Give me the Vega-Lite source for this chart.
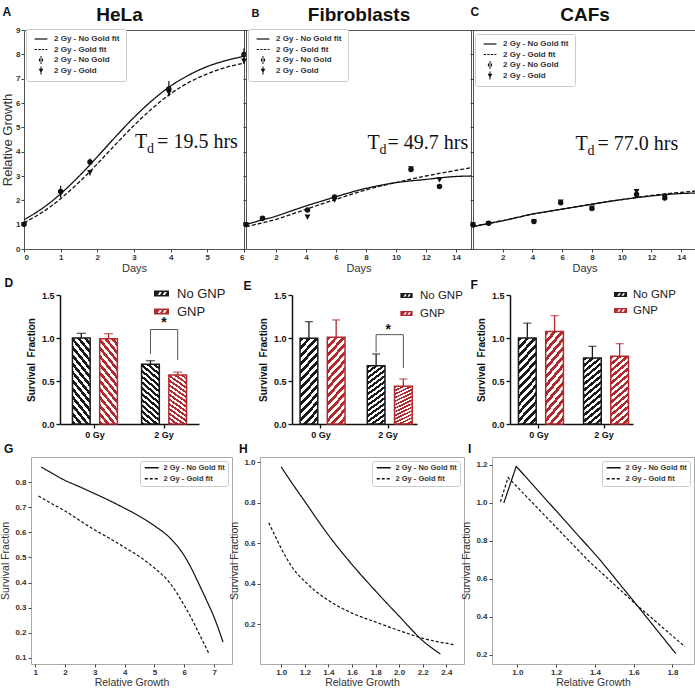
{
"$schema":"https://vega.github.io/schema/vega-lite/v6.json",
"background":"white",
"padding":{"left":0,"top":4,"right":0,"bottom":0},
"spacing":3,
"columns":1,
"align":"none",
"resolve":{"scale":{"color":"independent","shape":"independent","strokeDash":"independent"},"legend":{"color":"independent","shape":"independent","strokeDash":"independent"}},
"config":{
 "font":"Liberation Sans",
 "axis":{"grid":false,"labelFontWeight":"bold","labelColor":"#333","labelFontSize":8,"tickColor":"#444","domainColor":"#444","titleColor":"#333","titleFontWeight":"normal"},
 "title":{"color":"#111"}
},
"datasets":{
 "hela_fit":[
  {"series":"2 Gy - No Gold fit","day":0,"growth":1.2},{"series":"2 Gy - No Gold fit","day":0.5,"growth":1.67},{"series":"2 Gy - No Gold fit","day":1,"growth":2.27},{"series":"2 Gy - No Gold fit","day":1.5,"growth":2.99},{"series":"2 Gy - No Gold fit","day":2,"growth":3.79},{"series":"2 Gy - No Gold fit","day":2.5,"growth":4.62},{"series":"2 Gy - No Gold fit","day":3,"growth":5.41},{"series":"2 Gy - No Gold fit","day":3.5,"growth":6.11},{"series":"2 Gy - No Gold fit","day":4,"growth":6.7},{"series":"2 Gy - No Gold fit","day":4.5,"growth":7.15},{"series":"2 Gy - No Gold fit","day":5,"growth":7.5},{"series":"2 Gy - No Gold fit","day":5.5,"growth":7.74},{"series":"2 Gy - No Gold fit","day":6,"growth":7.92},
  {"series":"2 Gy - Gold fit","day":0,"growth":1.08},{"series":"2 Gy - Gold fit","day":0.5,"growth":1.51},{"series":"2 Gy - Gold fit","day":1,"growth":2.07},{"series":"2 Gy - Gold fit","day":1.5,"growth":2.74},{"series":"2 Gy - Gold fit","day":2,"growth":3.5},{"series":"2 Gy - Gold fit","day":2.5,"growth":4.3},{"series":"2 Gy - Gold fit","day":3,"growth":5.08},{"series":"2 Gy - Gold fit","day":3.5,"growth":5.78},{"series":"2 Gy - Gold fit","day":4,"growth":6.38},{"series":"2 Gy - Gold fit","day":4.5,"growth":6.85},{"series":"2 Gy - Gold fit","day":5,"growth":7.2},{"series":"2 Gy - Gold fit","day":5.5,"growth":7.46},{"series":"2 Gy - Gold fit","day":6,"growth":7.64}
 ],
 "hela_pts":[
  {"series":"2 Gy - No Gold","day":0,"growth":1.02,"lo":0.95,"hi":1.09},{"series":"2 Gy - No Gold","day":1,"growth":2.36,"lo":2.12,"hi":2.6},{"series":"2 Gy - No Gold","day":1.8,"growth":3.58,"lo":3.44,"hi":3.72},{"series":"2 Gy - No Gold","day":3.95,"growth":6.58,"lo":6.28,"hi":6.9},{"series":"2 Gy - No Gold","day":6,"growth":7.99,"lo":7.74,"hi":8.25},
  {"series":"2 Gy - Gold","day":0,"growth":1.0,"lo":0.94,"hi":1.06},{"series":"2 Gy - Gold","day":1,"growth":2.3,"lo":2.16,"hi":2.44},{"series":"2 Gy - Gold","day":1.8,"growth":3.14,"lo":3.02,"hi":3.26},{"series":"2 Gy - Gold","day":3.95,"growth":6.42,"lo":6.3,"hi":6.55},{"series":"2 Gy - Gold","day":6,"growth":7.72,"lo":7.6,"hi":7.85}
 ],
 "fib_fit":[
  {"series":"2 Gy - No Gold fit","day":0,"growth":1.01},{"series":"2 Gy - No Gold fit","day":1,"growth":1.18},{"series":"2 Gy - No Gold fit","day":2,"growth":1.35},{"series":"2 Gy - No Gold fit","day":3,"growth":1.56},{"series":"2 Gy - No Gold fit","day":4,"growth":1.77},{"series":"2 Gy - No Gold fit","day":5,"growth":1.96},{"series":"2 Gy - No Gold fit","day":6,"growth":2.15},{"series":"2 Gy - No Gold fit","day":7,"growth":2.33},{"series":"2 Gy - No Gold fit","day":8,"growth":2.49},{"series":"2 Gy - No Gold fit","day":9,"growth":2.62},{"series":"2 Gy - No Gold fit","day":10,"growth":2.73},{"series":"2 Gy - No Gold fit","day":11,"growth":2.8},{"series":"2 Gy - No Gold fit","day":12,"growth":2.86},{"series":"2 Gy - No Gold fit","day":13,"growth":2.93},{"series":"2 Gy - No Gold fit","day":14,"growth":2.98},{"series":"2 Gy - No Gold fit","day":15,"growth":3.0},
  {"series":"2 Gy - Gold fit","day":0,"growth":0.92},{"series":"2 Gy - Gold fit","day":1,"growth":1.06},{"series":"2 Gy - Gold fit","day":2,"growth":1.22},{"series":"2 Gy - Gold fit","day":3,"growth":1.42},{"series":"2 Gy - Gold fit","day":4,"growth":1.63},{"series":"2 Gy - Gold fit","day":5,"growth":1.84},{"series":"2 Gy - Gold fit","day":6,"growth":2.04},{"series":"2 Gy - Gold fit","day":7,"growth":2.24},{"series":"2 Gy - Gold fit","day":8,"growth":2.43},{"series":"2 Gy - Gold fit","day":9,"growth":2.59},{"series":"2 Gy - Gold fit","day":10,"growth":2.73},{"series":"2 Gy - Gold fit","day":11,"growth":2.87},{"series":"2 Gy - Gold fit","day":12,"growth":3.0},{"series":"2 Gy - Gold fit","day":13,"growth":3.12},{"series":"2 Gy - Gold fit","day":14,"growth":3.23},{"series":"2 Gy - Gold fit","day":15,"growth":3.34}
 ],
 "fib_pts":[
  {"series":"2 Gy - No Gold","day":0,"growth":1.01,"lo":0.97,"hi":1.05},{"series":"2 Gy - No Gold","day":1.1,"growth":1.26,"lo":1.21,"hi":1.31},{"series":"2 Gy - No Gold","day":4.1,"growth":1.6,"lo":1.55,"hi":1.65},{"series":"2 Gy - No Gold","day":5.9,"growth":2.14,"lo":2.08,"hi":2.2},{"series":"2 Gy - No Gold","day":11,"growth":3.27,"lo":3.19,"hi":3.35},{"series":"2 Gy - No Gold","day":12.9,"growth":2.57,"lo":2.52,"hi":2.62},
  {"series":"2 Gy - Gold","day":0,"growth":1.0,"lo":0.97,"hi":1.03},{"series":"2 Gy - Gold","day":1.1,"growth":1.22,"lo":1.18,"hi":1.26},{"series":"2 Gy - Gold","day":4.1,"growth":1.31,"lo":1.26,"hi":1.36},{"series":"2 Gy - Gold","day":5.9,"growth":2.0,"lo":1.95,"hi":2.05},{"series":"2 Gy - Gold","day":11,"growth":3.3,"lo":3.22,"hi":3.38},{"series":"2 Gy - Gold","day":12.9,"growth":2.84,"lo":2.79,"hi":2.89}
 ],
 "caf_fit":[
  {"series":"2 Gy - No Gold fit","day":0,"growth":0.92},{"series":"2 Gy - No Gold fit","day":1,"growth":1.04},{"series":"2 Gy - No Gold fit","day":2,"growth":1.16},{"series":"2 Gy - No Gold fit","day":3,"growth":1.3},{"series":"2 Gy - No Gold fit","day":4,"growth":1.44},{"series":"2 Gy - No Gold fit","day":5,"growth":1.54},{"series":"2 Gy - No Gold fit","day":6,"growth":1.64},{"series":"2 Gy - No Gold fit","day":7,"growth":1.74},{"series":"2 Gy - No Gold fit","day":8,"growth":1.84},{"series":"2 Gy - No Gold fit","day":9,"growth":1.94},{"series":"2 Gy - No Gold fit","day":10,"growth":2.03},{"series":"2 Gy - No Gold fit","day":11,"growth":2.11},{"series":"2 Gy - No Gold fit","day":12,"growth":2.18},{"series":"2 Gy - No Gold fit","day":13,"growth":2.24},{"series":"2 Gy - No Gold fit","day":14,"growth":2.28},{"series":"2 Gy - No Gold fit","day":15,"growth":2.3},
  {"series":"2 Gy - Gold fit","day":0,"growth":0.93},{"series":"2 Gy - Gold fit","day":1,"growth":1.05},{"series":"2 Gy - Gold fit","day":2,"growth":1.17},{"series":"2 Gy - Gold fit","day":3,"growth":1.3},{"series":"2 Gy - Gold fit","day":4,"growth":1.43},{"series":"2 Gy - Gold fit","day":5,"growth":1.54},{"series":"2 Gy - Gold fit","day":6,"growth":1.64},{"series":"2 Gy - Gold fit","day":7,"growth":1.74},{"series":"2 Gy - Gold fit","day":8,"growth":1.84},{"series":"2 Gy - Gold fit","day":9,"growth":1.94},{"series":"2 Gy - Gold fit","day":10,"growth":2.03},{"series":"2 Gy - Gold fit","day":11,"growth":2.12},{"series":"2 Gy - Gold fit","day":12,"growth":2.2},{"series":"2 Gy - Gold fit","day":13,"growth":2.27},{"series":"2 Gy - Gold fit","day":14,"growth":2.33},{"series":"2 Gy - Gold fit","day":15,"growth":2.38}
 ],
 "caf_pts":[
  {"series":"2 Gy - No Gold","day":0,"growth":0.99,"lo":0.96,"hi":1.02},{"series":"2 Gy - No Gold","day":1.05,"growth":1.06,"lo":1.03,"hi":1.09},{"series":"2 Gy - No Gold","day":4.1,"growth":1.13,"lo":1.09,"hi":1.17},{"series":"2 Gy - No Gold","day":5.9,"growth":1.9,"lo":1.84,"hi":1.96},{"series":"2 Gy - No Gold","day":8,"growth":1.66,"lo":1.62,"hi":1.7},{"series":"2 Gy - No Gold","day":11,"growth":2.24,"lo":2.16,"hi":2.32},{"series":"2 Gy - No Gold","day":12.9,"growth":2.1,"lo":2.06,"hi":2.14},
  {"series":"2 Gy - Gold","day":0,"growth":1.0,"lo":0.97,"hi":1.03},{"series":"2 Gy - Gold","day":1.05,"growth":1.05,"lo":1.02,"hi":1.08},{"series":"2 Gy - Gold","day":4.1,"growth":1.12,"lo":1.08,"hi":1.16},{"series":"2 Gy - Gold","day":5.9,"growth":1.93,"lo":1.87,"hi":1.99},{"series":"2 Gy - Gold","day":8,"growth":1.68,"lo":1.64,"hi":1.72},{"series":"2 Gy - Gold","day":11,"growth":2.36,"lo":2.3,"hi":2.42},{"series":"2 Gy - Gold","day":12.9,"growth":2.13,"lo":2.09,"hi":2.17}
 ],
 "d_bars":[{"dose":"0 Gy","group":"No GNP","sf":1.0,"hi":1.054},{"dose":"0 Gy","group":"GNP","sf":0.99,"hi":1.05},{"dose":"2 Gy","group":"No GNP","sf":0.694,"hi":0.736},{"dose":"2 Gy","group":"GNP","sf":0.57,"hi":0.603}],
 "d_brk":[{"dose":"2 Gy","group":"No GNP","sf":0.814,"o":1},{"dose":"2 Gy","group":"No GNP","sf":1.099,"o":2},{"dose":"2 Gy","group":"GNP","sf":1.099,"o":3},{"dose":"2 Gy","group":"GNP","sf":0.744,"o":4}],
 "e_bars":[{"dose":"0 Gy","group":"No GNP","sf":0.996,"hi":1.19},{"dose":"0 Gy","group":"GNP","sf":1.01,"hi":1.21},{"dose":"2 Gy","group":"No GNP","sf":0.678,"hi":0.814},{"dose":"2 Gy","group":"GNP","sf":0.438,"hi":0.523}],
 "e_brk":[{"dose":"2 Gy","group":"No GNP","sf":0.833,"o":1},{"dose":"2 Gy","group":"No GNP","sf":1.039,"o":2},{"dose":"2 Gy","group":"GNP","sf":1.039,"o":3},{"dose":"2 Gy","group":"GNP","sf":0.651,"o":4}],
 "f_bars":[{"dose":"0 Gy","group":"No GNP","sf":1.0,"hi":1.174},{"dose":"0 Gy","group":"GNP","sf":1.077,"hi":1.26},{"dose":"2 Gy","group":"No GNP","sf":0.767,"hi":0.903},{"dose":"2 Gy","group":"GNP","sf":0.787,"hi":0.934}],
 "g_fit":[
  {"series":"2 Gy - No Gold fit","rg":1.2,"sf":0.86},{"series":"2 Gy - No Gold fit","rg":1.5,"sf":0.84},{"series":"2 Gy - No Gold fit","rg":2,"sf":0.807},{"series":"2 Gy - No Gold fit","rg":2.5,"sf":0.781},{"series":"2 Gy - No Gold fit","rg":3,"sf":0.754},{"series":"2 Gy - No Gold fit","rg":3.5,"sf":0.726},{"series":"2 Gy - No Gold fit","rg":4,"sf":0.696},{"series":"2 Gy - No Gold fit","rg":4.5,"sf":0.664},{"series":"2 Gy - No Gold fit","rg":5,"sf":0.626},{"series":"2 Gy - No Gold fit","rg":5.5,"sf":0.58},{"series":"2 Gy - No Gold fit","rg":6,"sf":0.507},{"series":"2 Gy - No Gold fit","rg":6.25,"sf":0.454},{"series":"2 Gy - No Gold fit","rg":6.5,"sf":0.392},{"series":"2 Gy - No Gold fit","rg":6.75,"sf":0.329},{"series":"2 Gy - No Gold fit","rg":7,"sf":0.262},{"series":"2 Gy - No Gold fit","rg":7.3,"sf":0.163},
  {"series":"2 Gy - Gold fit","rg":1.11,"sf":0.745},{"series":"2 Gy - Gold fit","rg":1.5,"sf":0.718},{"series":"2 Gy - Gold fit","rg":2,"sf":0.685},{"series":"2 Gy - Gold fit","rg":2.5,"sf":0.647},{"series":"2 Gy - Gold fit","rg":3,"sf":0.609},{"series":"2 Gy - Gold fit","rg":3.5,"sf":0.576},{"series":"2 Gy - Gold fit","rg":4,"sf":0.54},{"series":"2 Gy - Gold fit","rg":4.5,"sf":0.503},{"series":"2 Gy - Gold fit","rg":5,"sf":0.458},{"series":"2 Gy - Gold fit","rg":5.5,"sf":0.401},{"series":"2 Gy - Gold fit","rg":6,"sf":0.309},{"series":"2 Gy - Gold fit","rg":6.25,"sf":0.256},{"series":"2 Gy - Gold fit","rg":6.5,"sf":0.196},{"series":"2 Gy - Gold fit","rg":6.83,"sf":0.117}
 ],
 "h_fit":[
  {"series":"2 Gy - No Gold fit","rg":1.0,"sf":0.977},{"series":"2 Gy - No Gold fit","rg":1.1,"sf":0.89},{"series":"2 Gy - No Gold fit","rg":1.2,"sf":0.807},{"series":"2 Gy - No Gold fit","rg":1.3,"sf":0.722},{"series":"2 Gy - No Gold fit","rg":1.4,"sf":0.641},{"series":"2 Gy - No Gold fit","rg":1.6,"sf":0.496},{"series":"2 Gy - No Gold fit","rg":1.8,"sf":0.365},{"series":"2 Gy - No Gold fit","rg":2.0,"sf":0.241},{"series":"2 Gy - No Gold fit","rg":2.2,"sf":0.12},{"series":"2 Gy - No Gold fit","rg":2.35,"sf":0.054},
  {"series":"2 Gy - Gold fit","rg":0.894,"sf":0.702},{"series":"2 Gy - Gold fit","rg":0.95,"sf":0.635},{"series":"2 Gy - Gold fit","rg":1.0,"sf":0.575},{"series":"2 Gy - Gold fit","rg":1.1,"sf":0.476},{"series":"2 Gy - Gold fit","rg":1.2,"sf":0.412},{"series":"2 Gy - Gold fit","rg":1.3,"sf":0.36},{"series":"2 Gy - Gold fit","rg":1.4,"sf":0.319},{"series":"2 Gy - Gold fit","rg":1.6,"sf":0.256},{"series":"2 Gy - Gold fit","rg":1.8,"sf":0.212},{"series":"2 Gy - Gold fit","rg":2.0,"sf":0.17},{"series":"2 Gy - Gold fit","rg":2.2,"sf":0.132},{"series":"2 Gy - Gold fit","rg":2.47,"sf":0.1}
 ],
 "i_fit":[
  {"series":"2 Gy - No Gold fit","rg":0.93,"sf":0.998},{"series":"2 Gy - No Gold fit","rg":0.994,"sf":1.191},{"series":"2 Gy - No Gold fit","rg":1.425,"sf":0.7},{"series":"2 Gy - No Gold fit","rg":1.617,"sf":0.459},{"series":"2 Gy - No Gold fit","rg":1.817,"sf":0.205},
  {"series":"2 Gy - Gold fit","rg":0.9125,"sf":1.004},{"series":"2 Gy - Gold fit","rg":0.952,"sf":1.132},{"series":"2 Gy - Gold fit","rg":1.37,"sf":0.69},{"series":"2 Gy - Gold fit","rg":1.617,"sf":0.459},{"series":"2 Gy - Gold fit","rg":1.864,"sf":0.241}
 ]
},
"concat":[
 {"hconcat":[
  {"width":22,"height":10,"view":{"stroke":null},"data":{"values":[]},"mark":{"type":"point","opacity":0}},
  {"width":220,"height":219,"view":{"stroke":"#555"},
   "title":{"text":"A","anchor":"start","frame":"bounds","fontSize":12,"fontWeight":"bold","offset":-14,"dx":1},
   "resolve":{"axis":{"x":"independent","y":"independent"}},
   "layer":[
    {"data":{"name":"hela_fit"},"mark":{"type":"line","color":"#111","strokeWidth":1.3,"interpolate":"monotone"},
     "encoding":{
      "x":{"field":"day","type":"quantitative","scale":{"domain":[0,6],"nice":false},"axis":{"title":"Days","values":[0,1,2,3,4,5,6],"titleFontSize":11,"tickSize":3,"domain":false,"labelPadding":1,"titlePadding":1}},
      "y":{"field":"growth","type":"quantitative","scale":{"domain":[0,9],"nice":false},"axis":{"title":"Relative Growth","values":[0,1,2,3,4,5,6,7,8,9],"titleFontSize":13,"tickSize":3,"domain":false,"labelPadding":1,"titlePadding":1}},
      "strokeDash":{"field":"series","type":"nominal","scale":{"domain":["2 Gy - No Gold fit","2 Gy - Gold fit"],"range":[[1,0],[4,2]]},"legend":null}}},
    {"data":{"name":"hela_pts"},"mark":{"type":"rule","color":"#111","strokeWidth":1.2},"encoding":{"x":{"field":"day","type":"quantitative","axis":null},"y":{"field":"lo","type":"quantitative","axis":null},"y2":{"field":"hi"}}},
    {"data":{"name":"hela_pts"},"transform":[{"filter":"datum.series === '2 Gy - No Gold'"}],"mark":{"type":"point","shape":"circle","filled":true,"color":"#111","size":30,"opacity":1},"encoding":{"x":{"field":"day","type":"quantitative","axis":null},"y":{"field":"growth","type":"quantitative","axis":null}}},
    {"data":{"name":"hela_pts"},"transform":[{"filter":"datum.series === '2 Gy - Gold'"}],"mark":{"type":"point","shape":"triangle-down","filled":true,"color":"#111","size":34,"opacity":1},"encoding":{"x":{"field":"day","type":"quantitative","axis":null},"y":{"field":"growth","type":"quantitative","axis":null}}},
    {"data":{"name":"hela_pts"},"mark":{"type":"point","filled":true,"color":"#111","opacity":0},
     "encoding":{
      "x":{"field":"day","type":"quantitative","axis":{"orient":"top","title":"HeLa","labels":false,"ticks":false,"domain":false,"titleFontSize":19,"titleFontWeight":"bold","titleColor":"#111","titlePadding":6,"titleX":95}},
      "y":{"field":"growth","type":"quantitative","axis":null},
      "shape":{"field":"series","type":"nominal","scale":{"domain":["2 Gy - No Gold fit","2 Gy - Gold fit","2 Gy - No Gold","2 Gy - Gold"],"range":["M-1.6,-0.15H1.6V0.15H-1.6Z","M-1.6,-0.15H-1V0.15H-1.6Z M-0.7,-0.15H-0.1V0.15H-0.7Z M0.2,-0.15H0.8V0.15H0.2Z M1.1,-0.15H1.6V0.15H1.1Z","M-0.55,0A0.55,0.55 0 1,0 0.55,0A0.55,0.55 0 1,0 -0.55,0Z M-0.13,-1H0.13V1H-0.13Z","M-0.6,-0.45L0.6,-0.45L0,0.6Z M-0.13,-1H0.13V1H-0.13Z"]},
       "legend":{"title":null,"orient":"none","legendX":2,"legendY":-1,"padding":6,"strokeColor":"#ccc","fillColor":"#fff","cornerRadius":2,"symbolSize":64,"symbolOpacity":1,"symbolStrokeWidth":0,"symbolFillColor":"#111","symbolOffset":5,"labelFontSize":8,"labelFontWeight":"bold","labelColor":"#333","labelOffset":9,"rowPadding":2.5}}}},
    {"data":{"values":[{"t":"T"}]},"mark":{"type":"text","font":"Liberation Serif","fontSize":20,"align":"left","baseline":"alphabetic","color":"#111"},"encoding":{"x":{"datum":3.03,"type":"quantitative","axis":null},"y":{"datum":4.15,"type":"quantitative","axis":null},"text":{"field":"t"}}},
    {"data":{"values":[{"t":"d"}]},"mark":{"type":"text","font":"Liberation Serif","fontSize":14,"align":"left","baseline":"alphabetic","color":"#111","dx":12,"dy":5},"encoding":{"x":{"datum":3.03,"type":"quantitative","axis":null},"y":{"datum":4.15,"type":"quantitative","axis":null},"text":{"field":"t"}}},
    {"data":{"values":[{"t":"= 19.5 hrs"}]},"mark":{"type":"text","font":"Liberation Serif","fontSize":20,"align":"left","baseline":"alphabetic","color":"#111","dx":22},"encoding":{"x":{"datum":3.03,"type":"quantitative","axis":null},"y":{"datum":4.15,"type":"quantitative","axis":null},"text":{"field":"t"}}}
   ]},
  {"width":2,"height":10,"view":{"stroke":null},"data":{"values":[]},"mark":{"type":"point","opacity":0}},
  {"width":225,"height":219,"view":{"stroke":"#555"},
   "title":{"text":"B","anchor":"start","frame":"bounds","fontSize":11,"fontWeight":"bold","offset":-14,"dx":9},
   "resolve":{"axis":{"x":"independent","y":"independent"}},
   "layer":[
    {"data":{"name":"fib_fit"},"mark":{"type":"line","color":"#111","strokeWidth":1.3,"interpolate":"monotone"},
     "encoding":{
      "x":{"field":"day","type":"quantitative","scale":{"domain":[0,15],"nice":false},"axis":{"title":"Days","values":[2,4,6,8,10,12,14],"titleFontSize":11,"tickSize":3,"domain":false,"labelPadding":1,"titlePadding":1}},
      "y":{"field":"growth","type":"quantitative","scale":{"domain":[0,9],"nice":false},"axis":{"title":null,"labels":false,"values":[0,1,2,3,4,5,6,7,8,9],"tickSize":3,"domain":false}},
      "strokeDash":{"field":"series","type":"nominal","scale":{"domain":["2 Gy - No Gold fit","2 Gy - Gold fit"],"range":[[1,0],[4,2]]},"legend":null}}},
    {"data":{"name":"fib_pts"},"mark":{"type":"rule","color":"#111","strokeWidth":1.2},"encoding":{"x":{"field":"day","type":"quantitative","axis":null},"y":{"field":"lo","type":"quantitative","axis":null},"y2":{"field":"hi"}}},
    {"data":{"name":"fib_pts"},"transform":[{"filter":"datum.series === '2 Gy - No Gold'"}],"mark":{"type":"point","shape":"circle","filled":true,"color":"#111","size":30,"opacity":1},"encoding":{"x":{"field":"day","type":"quantitative","axis":null},"y":{"field":"growth","type":"quantitative","axis":null}}},
    {"data":{"name":"fib_pts"},"transform":[{"filter":"datum.series === '2 Gy - Gold'"}],"mark":{"type":"point","shape":"triangle-down","filled":true,"color":"#111","size":34,"opacity":1},"encoding":{"x":{"field":"day","type":"quantitative","axis":null},"y":{"field":"growth","type":"quantitative","axis":null}}},
    {"data":{"name":"fib_pts"},"mark":{"type":"point","filled":true,"color":"#111","opacity":0},
     "encoding":{
      "x":{"field":"day","type":"quantitative","axis":{"orient":"top","title":"Fibroblasts","labels":false,"ticks":false,"domain":false,"titleFontSize":19,"titleFontWeight":"bold","titleColor":"#111","titlePadding":6}},
      "y":{"field":"growth","type":"quantitative","axis":null},
      "shape":{"field":"series","type":"nominal","scale":{"domain":["2 Gy - No Gold fit","2 Gy - Gold fit","2 Gy - No Gold","2 Gy - Gold"],"range":["M-1.6,-0.15H1.6V0.15H-1.6Z","M-1.6,-0.15H-1V0.15H-1.6Z M-0.7,-0.15H-0.1V0.15H-0.7Z M0.2,-0.15H0.8V0.15H0.2Z M1.1,-0.15H1.6V0.15H1.1Z","M-0.55,0A0.55,0.55 0 1,0 0.55,0A0.55,0.55 0 1,0 -0.55,0Z M-0.13,-1H0.13V1H-0.13Z","M-0.6,-0.45L0.6,-0.45L0,0.6Z M-0.13,-1H0.13V1H-0.13Z"]},
       "legend":{"title":null,"orient":"none","legendX":2,"legendY":-1,"padding":6,"strokeColor":"#ccc","fillColor":"#fff","cornerRadius":2,"symbolSize":64,"symbolOpacity":1,"symbolStrokeWidth":0,"symbolFillColor":"#111","symbolOffset":5,"labelFontSize":8,"labelFontWeight":"bold","labelColor":"#333","labelOffset":9,"rowPadding":2.5}}}},
    {"data":{"values":[{"t":"T"}]},"mark":{"type":"text","font":"Liberation Serif","fontSize":20,"align":"left","baseline":"alphabetic","color":"#111"},"encoding":{"x":{"datum":8.1,"type":"quantitative","axis":null},"y":{"datum":4.11,"type":"quantitative","axis":null},"text":{"field":"t"}}},
    {"data":{"values":[{"t":"d"}]},"mark":{"type":"text","font":"Liberation Serif","fontSize":14,"align":"left","baseline":"alphabetic","color":"#111","dx":12,"dy":5},"encoding":{"x":{"datum":8.1,"type":"quantitative","axis":null},"y":{"datum":4.11,"type":"quantitative","axis":null},"text":{"field":"t"}}},
    {"data":{"values":[{"t":"= 49.7 hrs"}]},"mark":{"type":"text","font":"Liberation Serif","fontSize":20,"align":"left","baseline":"alphabetic","color":"#111","dx":20},"encoding":{"x":{"datum":8.1,"type":"quantitative","axis":null},"y":{"datum":4.11,"type":"quantitative","axis":null},"text":{"field":"t"}}}
   ]},
  {"width":2,"height":10,"view":{"stroke":null},"data":{"values":[]},"mark":{"type":"point","opacity":0}},
  {"width":223,"height":219,"view":{"stroke":"#555"},
   "title":{"text":"C","anchor":"start","frame":"bounds","fontSize":12,"fontWeight":"bold","offset":-14,"dx":1},
   "resolve":{"axis":{"x":"independent","y":"independent"}},
   "layer":[
    {"data":{"name":"caf_fit"},"mark":{"type":"line","color":"#111","strokeWidth":1.3,"interpolate":"monotone"},
     "encoding":{
      "x":{"field":"day","type":"quantitative","scale":{"domain":[0,15],"nice":false},"axis":{"title":"Days","values":[2,4,6,8,10,12,14],"titleFontSize":11,"tickSize":3,"domain":false,"labelPadding":1,"titlePadding":1}},
      "y":{"field":"growth","type":"quantitative","scale":{"domain":[0,9],"nice":false},"axis":{"title":null,"labels":false,"values":[0,1,2,3,4,5,6,7,8,9],"tickSize":3,"domain":false}},
      "strokeDash":{"field":"series","type":"nominal","scale":{"domain":["2 Gy - No Gold fit","2 Gy - Gold fit"],"range":[[1,0],[4,2]]},"legend":null}}},
    {"data":{"name":"caf_pts"},"mark":{"type":"rule","color":"#111","strokeWidth":1.2},"encoding":{"x":{"field":"day","type":"quantitative","axis":null},"y":{"field":"lo","type":"quantitative","axis":null},"y2":{"field":"hi"}}},
    {"data":{"name":"caf_pts"},"transform":[{"filter":"datum.series === '2 Gy - No Gold'"}],"mark":{"type":"point","shape":"circle","filled":true,"color":"#111","size":30,"opacity":1},"encoding":{"x":{"field":"day","type":"quantitative","axis":null},"y":{"field":"growth","type":"quantitative","axis":null}}},
    {"data":{"name":"caf_pts"},"transform":[{"filter":"datum.series === '2 Gy - Gold'"}],"mark":{"type":"point","shape":"triangle-down","filled":true,"color":"#111","size":34,"opacity":1},"encoding":{"x":{"field":"day","type":"quantitative","axis":null},"y":{"field":"growth","type":"quantitative","axis":null}}},
    {"data":{"name":"caf_pts"},"mark":{"type":"point","filled":true,"color":"#111","opacity":0},
     "encoding":{
      "x":{"field":"day","type":"quantitative","axis":{"orient":"top","title":"CAFs","labels":false,"ticks":false,"domain":false,"titleFontSize":19,"titleFontWeight":"bold","titleColor":"#111","titlePadding":6}},
      "y":{"field":"growth","type":"quantitative","axis":null},
      "shape":{"field":"series","type":"nominal","scale":{"domain":["2 Gy - No Gold fit","2 Gy - Gold fit","2 Gy - No Gold","2 Gy - Gold"],"range":["M-1.6,-0.15H1.6V0.15H-1.6Z","M-1.6,-0.15H-1V0.15H-1.6Z M-0.7,-0.15H-0.1V0.15H-0.7Z M0.2,-0.15H0.8V0.15H0.2Z M1.1,-0.15H1.6V0.15H1.1Z","M-0.55,0A0.55,0.55 0 1,0 0.55,0A0.55,0.55 0 1,0 -0.55,0Z M-0.13,-1H0.13V1H-0.13Z","M-0.6,-0.45L0.6,-0.45L0,0.6Z M-0.13,-1H0.13V1H-0.13Z"]},
       "legend":{"title":null,"orient":"none","legendX":2,"legendY":4,"padding":6,"strokeColor":"#ccc","fillColor":"#fff","cornerRadius":2,"symbolSize":64,"symbolOpacity":1,"symbolStrokeWidth":0,"symbolFillColor":"#111","symbolOffset":5,"labelFontSize":8,"labelFontWeight":"bold","labelColor":"#333","labelOffset":9,"rowPadding":2.5}}}},
    {"data":{"values":[{"t":"T"}]},"mark":{"type":"text","font":"Liberation Serif","fontSize":20,"align":"left","baseline":"alphabetic","color":"#111"},"encoding":{"x":{"datum":6.9,"type":"quantitative","axis":null},"y":{"datum":4.07,"type":"quantitative","axis":null},"text":{"field":"t"}}},
    {"data":{"values":[{"t":"d"}]},"mark":{"type":"text","font":"Liberation Serif","fontSize":14,"align":"left","baseline":"alphabetic","color":"#111","dx":12,"dy":5},"encoding":{"x":{"datum":6.9,"type":"quantitative","axis":null},"y":{"datum":4.07,"type":"quantitative","axis":null},"text":{"field":"t"}}},
    {"data":{"values":[{"t":"= 77.0 hrs"}]},"mark":{"type":"text","font":"Liberation Serif","fontSize":20,"align":"left","baseline":"alphabetic","color":"#111","dx":22},"encoding":{"x":{"datum":6.9,"type":"quantitative","axis":null},"y":{"datum":4.07,"type":"quantitative","axis":null},"text":{"field":"t"}}}
   ]}
 ],"bounds":"flush","spacing":0,"resolve":{"scale":{"shape":"independent","strokeDash":"independent"},"legend":{"shape":"independent","strokeDash":"independent"}}},
 {"hconcat":[
  {"width":58,"height":10,"view":{"stroke":null},"data":{"values":[]},"mark":{"type":"point","opacity":0}},
  {"width":139,"height":129,"view":{"stroke":null},
   "title":{"text":"D","anchor":"start","frame":"bounds","fontSize":12,"fontWeight":"bold","offset":-4,"dx":-22},
   "resolve":{"axis":{"x":"independent","y":"independent"},"legend":{"color":"independent"}},
   "layer":[
    {"data":{"name":"d_bars"},"transform":[{"filter":"datum.group === 'No GNP'"}],"mark":{"type":"bar","stroke":"#1a1a1a","strokeWidth":1.5,"fill":{"gradient":"linear","x1":0,"y1":1,"x2":0.3,"y2":-0.18,"stops":[{"offset":0,"color":"#1a1a1a"},{"offset":0.0385,"color":"#1a1a1a"},{"offset":0.0385,"color":"#ffffff"},{"offset":0.0769,"color":"#ffffff"},{"offset":0.0769,"color":"#1a1a1a"},{"offset":0.1154,"color":"#1a1a1a"},{"offset":0.1154,"color":"#ffffff"},{"offset":0.1538,"color":"#ffffff"},{"offset":0.1538,"color":"#1a1a1a"},{"offset":0.1923,"color":"#1a1a1a"},{"offset":0.1923,"color":"#ffffff"},{"offset":0.2308,"color":"#ffffff"},{"offset":0.2308,"color":"#1a1a1a"},{"offset":0.2692,"color":"#1a1a1a"},{"offset":0.2692,"color":"#ffffff"},{"offset":0.3077,"color":"#ffffff"},{"offset":0.3077,"color":"#1a1a1a"},{"offset":0.3462,"color":"#1a1a1a"},{"offset":0.3462,"color":"#ffffff"},{"offset":0.3846,"color":"#ffffff"},{"offset":0.3846,"color":"#1a1a1a"},{"offset":0.4231,"color":"#1a1a1a"},{"offset":0.4231,"color":"#ffffff"},{"offset":0.4615,"color":"#ffffff"},{"offset":0.4615,"color":"#1a1a1a"},{"offset":0.5,"color":"#1a1a1a"},{"offset":0.5,"color":"#ffffff"},{"offset":0.5385,"color":"#ffffff"},{"offset":0.5385,"color":"#1a1a1a"},{"offset":0.5769,"color":"#1a1a1a"},{"offset":0.5769,"color":"#ffffff"},{"offset":0.6154,"color":"#ffffff"},{"offset":0.6154,"color":"#1a1a1a"},{"offset":0.6538,"color":"#1a1a1a"},{"offset":0.6538,"color":"#ffffff"},{"offset":0.6923,"color":"#ffffff"},{"offset":0.6923,"color":"#1a1a1a"},{"offset":0.7308,"color":"#1a1a1a"},{"offset":0.7308,"color":"#ffffff"},{"offset":0.7692,"color":"#ffffff"},{"offset":0.7692,"color":"#1a1a1a"},{"offset":0.8077,"color":"#1a1a1a"},{"offset":0.8077,"color":"#ffffff"},{"offset":0.8462,"color":"#ffffff"},{"offset":0.8462,"color":"#1a1a1a"},{"offset":0.8846,"color":"#1a1a1a"},{"offset":0.8846,"color":"#ffffff"},{"offset":0.9231,"color":"#ffffff"},{"offset":0.9231,"color":"#1a1a1a"},{"offset":0.9615,"color":"#1a1a1a"},{"offset":0.9615,"color":"#ffffff"},{"offset":1,"color":"#ffffff"}]}},
     "encoding":{
      "x":{"field":"dose","type":"nominal","scale":{"domain":["0 Gy","2 Gy"],"paddingInner":0.35,"paddingOuter":0.18},"axis":{"title":null,"labelAngle":0,"labelFontSize":9,"labelColor":"#111","tickSize":4,"tickWidth":1.3,"tickColor":"#111","domainWidth":1.5,"domainColor":"#111","labelPadding":2}},
      "y":{"field":"sf","type":"quantitative","scale":{"domain":[0,1.5],"nice":false},"axis":{"title":"Survival \u00a0Fraction","titleFontSize":10,"titleFontWeight":"bold","titleColor":"#111","values":[0,0.5,1,1.5],"format":".1f","labelFontSize":9,"labelColor":"#111","tickSize":4,"tickWidth":1.3,"tickColor":"#111","domainWidth":1.5,"domainColor":"#111","labelPadding":2,"titlePadding":5}},
      "xOffset":{"field":"group","type":"nominal","scale":{"domain":["No GNP","GNP"],"paddingInner":0.35,"paddingOuter":0}}}},
    {"data":{"name":"d_bars"},"transform":[{"filter":"datum.group === 'GNP'"}],"mark":{"type":"bar","stroke":"#b22a2e","strokeWidth":1.5,"fill":{"gradient":"linear","x1":0,"y1":1,"x2":0.3,"y2":-0.18,"stops":[{"offset":0,"color":"#b22a2e"},{"offset":0.0385,"color":"#b22a2e"},{"offset":0.0385,"color":"#ffffff"},{"offset":0.0769,"color":"#ffffff"},{"offset":0.0769,"color":"#b22a2e"},{"offset":0.1154,"color":"#b22a2e"},{"offset":0.1154,"color":"#ffffff"},{"offset":0.1538,"color":"#ffffff"},{"offset":0.1538,"color":"#b22a2e"},{"offset":0.1923,"color":"#b22a2e"},{"offset":0.1923,"color":"#ffffff"},{"offset":0.2308,"color":"#ffffff"},{"offset":0.2308,"color":"#b22a2e"},{"offset":0.2692,"color":"#b22a2e"},{"offset":0.2692,"color":"#ffffff"},{"offset":0.3077,"color":"#ffffff"},{"offset":0.3077,"color":"#b22a2e"},{"offset":0.3462,"color":"#b22a2e"},{"offset":0.3462,"color":"#ffffff"},{"offset":0.3846,"color":"#ffffff"},{"offset":0.3846,"color":"#b22a2e"},{"offset":0.4231,"color":"#b22a2e"},{"offset":0.4231,"color":"#ffffff"},{"offset":0.4615,"color":"#ffffff"},{"offset":0.4615,"color":"#b22a2e"},{"offset":0.5,"color":"#b22a2e"},{"offset":0.5,"color":"#ffffff"},{"offset":0.5385,"color":"#ffffff"},{"offset":0.5385,"color":"#b22a2e"},{"offset":0.5769,"color":"#b22a2e"},{"offset":0.5769,"color":"#ffffff"},{"offset":0.6154,"color":"#ffffff"},{"offset":0.6154,"color":"#b22a2e"},{"offset":0.6538,"color":"#b22a2e"},{"offset":0.6538,"color":"#ffffff"},{"offset":0.6923,"color":"#ffffff"},{"offset":0.6923,"color":"#b22a2e"},{"offset":0.7308,"color":"#b22a2e"},{"offset":0.7308,"color":"#ffffff"},{"offset":0.7692,"color":"#ffffff"},{"offset":0.7692,"color":"#b22a2e"},{"offset":0.8077,"color":"#b22a2e"},{"offset":0.8077,"color":"#ffffff"},{"offset":0.8462,"color":"#ffffff"},{"offset":0.8462,"color":"#b22a2e"},{"offset":0.8846,"color":"#b22a2e"},{"offset":0.8846,"color":"#ffffff"},{"offset":0.9231,"color":"#ffffff"},{"offset":0.9231,"color":"#b22a2e"},{"offset":0.9615,"color":"#b22a2e"},{"offset":0.9615,"color":"#ffffff"},{"offset":1,"color":"#ffffff"}]}},"encoding":{"x":{"field":"dose","type":"nominal","axis":null},"y":{"field":"sf","type":"quantitative","axis":null},"xOffset":{"field":"group","type":"nominal","scale":{"domain":["No GNP","GNP"],"paddingInner":0.35,"paddingOuter":0}}}},
    {"data":{"name":"d_bars"},"mark":{"type":"rule","strokeWidth":1.3},"encoding":{"x":{"field":"dose","type":"nominal","axis":null},"y":{"field":"sf","type":"quantitative","axis":null},"y2":{"field":"hi"},"xOffset":{"field":"group","type":"nominal","scale":{"domain":["No GNP","GNP"],"paddingInner":0.35,"paddingOuter":0}},"color":{"field":"group","type":"nominal","scale":{"domain":["No GNP","GNP"],"range":["#1a1a1a","#b22a2e"]},"legend":null}}},
    {"data":{"name":"d_bars"},"mark":{"type":"tick","size":9,"thickness":1.3},"encoding":{"x":{"field":"dose","type":"nominal","axis":null},"y":{"field":"hi","type":"quantitative","axis":null},"xOffset":{"field":"group","type":"nominal","scale":{"domain":["No GNP","GNP"],"paddingInner":0.35,"paddingOuter":0}},"color":{"field":"group","type":"nominal","scale":{"domain":["No GNP","GNP"],"range":["#1a1a1a","#b22a2e"]},"legend":null}}},
    {"data":{"name":"d_brk"},"mark":{"type":"line","color":"#555","strokeWidth":1},"encoding":{"x":{"field":"dose","type":"nominal","axis":null},"y":{"field":"sf","type":"quantitative","axis":null},"xOffset":{"field":"group","type":"nominal","scale":{"domain":["No GNP","GNP"],"paddingInner":0.35,"paddingOuter":0}},"order":{"field":"o","type":"quantitative"}}},
    {"data":{"values":[{"s":"*"}]},"mark":{"type":"text","fontSize":14,"fontWeight":"bold","baseline":"alphabetic","color":"#111"},"encoding":{"x":{"datum":"2 Gy","type":"nominal","axis":null},"y":{"datum":1.13,"type":"quantitative","axis":null},"text":{"field":"s"}}},
    {"data":{"name":"d_bars"},"mark":{"type":"point","filled":true,"opacity":0},"encoding":{"x":{"field":"dose","type":"nominal","axis":null},"y":{"field":"sf","type":"quantitative","axis":null},"xOffset":{"field":"group","type":"nominal","scale":{"domain":["No GNP","GNP"],"paddingInner":0.35,"paddingOuter":0}},
     "color":{"field":"group","type":"nominal","scale":{"domain":["No GNP","GNP"],"range":["#1a1a1a","#b22a2e"]},
      "legend":{"title":null,"orient":"none","legendX":94,"legendY":-9,"padding":0,"symbolType":"M-1,-0.4H1V0.4H-1Z M-0.5,0.2L-0.2,0.2L0.05,-0.2L-0.25,-0.2Z M0.15,0.2L0.45,0.2L0.7,-0.2L0.4,-0.2Z","symbolSize":225,"symbolOpacity":1,"symbolStrokeWidth":0,"labelFontSize":13,"labelFontWeight":"normal","labelColor":"#222","labelOffset":8,"rowPadding":3}}}}
   ]},
  {"width":93,"height":10,"view":{"stroke":null},"data":{"values":[]},"mark":{"type":"point","opacity":0}},
  {"width":125,"height":129,"view":{"stroke":null},
   "title":{"text":"E","anchor":"start","frame":"bounds","fontSize":12,"fontWeight":"bold","offset":-4,"dx":-15},
   "resolve":{"axis":{"x":"independent","y":"independent"},"legend":{"color":"independent"}},
   "layer":[
    {"data":{"name":"e_bars"},"transform":[{"filter":"datum.group === 'No GNP'"}],"mark":{"type":"bar","stroke":"#1a1a1a","strokeWidth":1.5,"fill":{"gradient":"linear","x1":0,"y1":0,"x2":0.26,"y2":1.165,"stops":[{"offset":0,"color":"#1a1a1a"},{"offset":0.0385,"color":"#1a1a1a"},{"offset":0.0385,"color":"#ffffff"},{"offset":0.0769,"color":"#ffffff"},{"offset":0.0769,"color":"#1a1a1a"},{"offset":0.1154,"color":"#1a1a1a"},{"offset":0.1154,"color":"#ffffff"},{"offset":0.1538,"color":"#ffffff"},{"offset":0.1538,"color":"#1a1a1a"},{"offset":0.1923,"color":"#1a1a1a"},{"offset":0.1923,"color":"#ffffff"},{"offset":0.2308,"color":"#ffffff"},{"offset":0.2308,"color":"#1a1a1a"},{"offset":0.2692,"color":"#1a1a1a"},{"offset":0.2692,"color":"#ffffff"},{"offset":0.3077,"color":"#ffffff"},{"offset":0.3077,"color":"#1a1a1a"},{"offset":0.3462,"color":"#1a1a1a"},{"offset":0.3462,"color":"#ffffff"},{"offset":0.3846,"color":"#ffffff"},{"offset":0.3846,"color":"#1a1a1a"},{"offset":0.4231,"color":"#1a1a1a"},{"offset":0.4231,"color":"#ffffff"},{"offset":0.4615,"color":"#ffffff"},{"offset":0.4615,"color":"#1a1a1a"},{"offset":0.5,"color":"#1a1a1a"},{"offset":0.5,"color":"#ffffff"},{"offset":0.5385,"color":"#ffffff"},{"offset":0.5385,"color":"#1a1a1a"},{"offset":0.5769,"color":"#1a1a1a"},{"offset":0.5769,"color":"#ffffff"},{"offset":0.6154,"color":"#ffffff"},{"offset":0.6154,"color":"#1a1a1a"},{"offset":0.6538,"color":"#1a1a1a"},{"offset":0.6538,"color":"#ffffff"},{"offset":0.6923,"color":"#ffffff"},{"offset":0.6923,"color":"#1a1a1a"},{"offset":0.7308,"color":"#1a1a1a"},{"offset":0.7308,"color":"#ffffff"},{"offset":0.7692,"color":"#ffffff"},{"offset":0.7692,"color":"#1a1a1a"},{"offset":0.8077,"color":"#1a1a1a"},{"offset":0.8077,"color":"#ffffff"},{"offset":0.8462,"color":"#ffffff"},{"offset":0.8462,"color":"#1a1a1a"},{"offset":0.8846,"color":"#1a1a1a"},{"offset":0.8846,"color":"#ffffff"},{"offset":0.9231,"color":"#ffffff"},{"offset":0.9231,"color":"#1a1a1a"},{"offset":0.9615,"color":"#1a1a1a"},{"offset":0.9615,"color":"#ffffff"},{"offset":1,"color":"#ffffff"}]}},
     "encoding":{
      "x":{"field":"dose","type":"nominal","scale":{"domain":["0 Gy","2 Gy"],"paddingInner":0.38,"paddingOuter":0.12},"axis":{"title":null,"labelAngle":0,"labelFontSize":9,"labelColor":"#111","tickSize":4,"tickWidth":1.3,"tickColor":"#111","domainWidth":1.5,"domainColor":"#111","labelPadding":2}},
      "y":{"field":"sf","type":"quantitative","scale":{"domain":[0,1.5],"nice":false},"axis":{"title":"Survival \u00a0Fraction","titleFontSize":10,"titleFontWeight":"bold","titleColor":"#111","values":[0,0.5,1,1.5],"format":".1f","labelFontSize":9,"labelColor":"#111","tickSize":4,"tickWidth":1.3,"tickColor":"#111","domainWidth":1.5,"domainColor":"#111","labelPadding":2,"titlePadding":5}},
      "xOffset":{"field":"group","type":"nominal","scale":{"domain":["No GNP","GNP"],"paddingInner":0.35,"paddingOuter":0}}}},
    {"data":{"name":"e_bars"},"transform":[{"filter":"datum.group === 'GNP'"}],"mark":{"type":"bar","stroke":"#b22a2e","strokeWidth":1.5,"fill":{"gradient":"linear","x1":0,"y1":0,"x2":0.26,"y2":1.165,"stops":[{"offset":0,"color":"#b22a2e"},{"offset":0.0385,"color":"#b22a2e"},{"offset":0.0385,"color":"#ffffff"},{"offset":0.0769,"color":"#ffffff"},{"offset":0.0769,"color":"#b22a2e"},{"offset":0.1154,"color":"#b22a2e"},{"offset":0.1154,"color":"#ffffff"},{"offset":0.1538,"color":"#ffffff"},{"offset":0.1538,"color":"#b22a2e"},{"offset":0.1923,"color":"#b22a2e"},{"offset":0.1923,"color":"#ffffff"},{"offset":0.2308,"color":"#ffffff"},{"offset":0.2308,"color":"#b22a2e"},{"offset":0.2692,"color":"#b22a2e"},{"offset":0.2692,"color":"#ffffff"},{"offset":0.3077,"color":"#ffffff"},{"offset":0.3077,"color":"#b22a2e"},{"offset":0.3462,"color":"#b22a2e"},{"offset":0.3462,"color":"#ffffff"},{"offset":0.3846,"color":"#ffffff"},{"offset":0.3846,"color":"#b22a2e"},{"offset":0.4231,"color":"#b22a2e"},{"offset":0.4231,"color":"#ffffff"},{"offset":0.4615,"color":"#ffffff"},{"offset":0.4615,"color":"#b22a2e"},{"offset":0.5,"color":"#b22a2e"},{"offset":0.5,"color":"#ffffff"},{"offset":0.5385,"color":"#ffffff"},{"offset":0.5385,"color":"#b22a2e"},{"offset":0.5769,"color":"#b22a2e"},{"offset":0.5769,"color":"#ffffff"},{"offset":0.6154,"color":"#ffffff"},{"offset":0.6154,"color":"#b22a2e"},{"offset":0.6538,"color":"#b22a2e"},{"offset":0.6538,"color":"#ffffff"},{"offset":0.6923,"color":"#ffffff"},{"offset":0.6923,"color":"#b22a2e"},{"offset":0.7308,"color":"#b22a2e"},{"offset":0.7308,"color":"#ffffff"},{"offset":0.7692,"color":"#ffffff"},{"offset":0.7692,"color":"#b22a2e"},{"offset":0.8077,"color":"#b22a2e"},{"offset":0.8077,"color":"#ffffff"},{"offset":0.8462,"color":"#ffffff"},{"offset":0.8462,"color":"#b22a2e"},{"offset":0.8846,"color":"#b22a2e"},{"offset":0.8846,"color":"#ffffff"},{"offset":0.9231,"color":"#ffffff"},{"offset":0.9231,"color":"#b22a2e"},{"offset":0.9615,"color":"#b22a2e"},{"offset":0.9615,"color":"#ffffff"},{"offset":1,"color":"#ffffff"}]}},"encoding":{"x":{"field":"dose","type":"nominal","axis":null},"y":{"field":"sf","type":"quantitative","axis":null},"xOffset":{"field":"group","type":"nominal","scale":{"domain":["No GNP","GNP"],"paddingInner":0.35,"paddingOuter":0}}}},
    {"data":{"name":"e_bars"},"mark":{"type":"rule","strokeWidth":1.3},"encoding":{"x":{"field":"dose","type":"nominal","axis":null},"y":{"field":"sf","type":"quantitative","axis":null},"y2":{"field":"hi"},"xOffset":{"field":"group","type":"nominal","scale":{"domain":["No GNP","GNP"],"paddingInner":0.35,"paddingOuter":0}},"color":{"field":"group","type":"nominal","scale":{"domain":["No GNP","GNP"],"range":["#1a1a1a","#b22a2e"]},"legend":null}}},
    {"data":{"name":"e_bars"},"mark":{"type":"tick","size":8,"thickness":1.3},"encoding":{"x":{"field":"dose","type":"nominal","axis":null},"y":{"field":"hi","type":"quantitative","axis":null},"xOffset":{"field":"group","type":"nominal","scale":{"domain":["No GNP","GNP"],"paddingInner":0.35,"paddingOuter":0}},"color":{"field":"group","type":"nominal","scale":{"domain":["No GNP","GNP"],"range":["#1a1a1a","#b22a2e"]},"legend":null}}},
    {"data":{"name":"e_brk"},"mark":{"type":"line","color":"#555","strokeWidth":1},"encoding":{"x":{"field":"dose","type":"nominal","axis":null},"y":{"field":"sf","type":"quantitative","axis":null},"xOffset":{"field":"group","type":"nominal","scale":{"domain":["No GNP","GNP"],"paddingInner":0.35,"paddingOuter":0}},"order":{"field":"o","type":"quantitative"}}},
    {"data":{"values":[{"s":"*"}]},"mark":{"type":"text","fontSize":14,"fontWeight":"bold","baseline":"alphabetic","color":"#111"},"encoding":{"x":{"datum":"2 Gy","type":"nominal","axis":null},"y":{"datum":1.05,"type":"quantitative","axis":null},"text":{"field":"s"}}},
    {"data":{"name":"e_bars"},"mark":{"type":"point","filled":true,"opacity":0},"encoding":{"x":{"field":"dose","type":"nominal","axis":null},"y":{"field":"sf","type":"quantitative","axis":null},"xOffset":{"field":"group","type":"nominal","scale":{"domain":["No GNP","GNP"],"paddingInner":0.35,"paddingOuter":0}},
     "color":{"field":"group","type":"nominal","scale":{"domain":["No GNP","GNP"],"range":["#1a1a1a","#b22a2e"]},
      "legend":{"title":null,"orient":"none","legendX":108,"legendY":-6,"padding":0,"symbolType":"M-1,-0.4H1V0.4H-1Z M-0.5,0.2L-0.2,0.2L0.05,-0.2L-0.25,-0.2Z M0.15,0.2L0.45,0.2L0.7,-0.2L0.4,-0.2Z","symbolSize":150,"symbolOpacity":1,"symbolStrokeWidth":0,"labelFontSize":11.5,"labelFontWeight":"normal","labelColor":"#222","labelOffset":7,"rowPadding":6}}}}
   ]},
  {"width":93,"height":10,"view":{"stroke":null},"data":{"values":[]},"mark":{"type":"point","opacity":0}},
  {"width":123,"height":129,"view":{"stroke":null},
   "title":{"text":"F","anchor":"start","frame":"bounds","fontSize":12,"fontWeight":"bold","offset":-4,"dx":-6},
   "resolve":{"axis":{"x":"independent","y":"independent"},"legend":{"color":"independent"}},
   "layer":[
    {"data":{"name":"f_bars"},"transform":[{"filter":"datum.group === 'No GNP'"}],"mark":{"type":"bar","stroke":"#1a1a1a","strokeWidth":1.5,"fill":{"gradient":"linear","x1":0,"y1":0,"x2":0.26,"y2":1.165,"stops":[{"offset":0,"color":"#1a1a1a"},{"offset":0.0385,"color":"#1a1a1a"},{"offset":0.0385,"color":"#ffffff"},{"offset":0.0769,"color":"#ffffff"},{"offset":0.0769,"color":"#1a1a1a"},{"offset":0.1154,"color":"#1a1a1a"},{"offset":0.1154,"color":"#ffffff"},{"offset":0.1538,"color":"#ffffff"},{"offset":0.1538,"color":"#1a1a1a"},{"offset":0.1923,"color":"#1a1a1a"},{"offset":0.1923,"color":"#ffffff"},{"offset":0.2308,"color":"#ffffff"},{"offset":0.2308,"color":"#1a1a1a"},{"offset":0.2692,"color":"#1a1a1a"},{"offset":0.2692,"color":"#ffffff"},{"offset":0.3077,"color":"#ffffff"},{"offset":0.3077,"color":"#1a1a1a"},{"offset":0.3462,"color":"#1a1a1a"},{"offset":0.3462,"color":"#ffffff"},{"offset":0.3846,"color":"#ffffff"},{"offset":0.3846,"color":"#1a1a1a"},{"offset":0.4231,"color":"#1a1a1a"},{"offset":0.4231,"color":"#ffffff"},{"offset":0.4615,"color":"#ffffff"},{"offset":0.4615,"color":"#1a1a1a"},{"offset":0.5,"color":"#1a1a1a"},{"offset":0.5,"color":"#ffffff"},{"offset":0.5385,"color":"#ffffff"},{"offset":0.5385,"color":"#1a1a1a"},{"offset":0.5769,"color":"#1a1a1a"},{"offset":0.5769,"color":"#ffffff"},{"offset":0.6154,"color":"#ffffff"},{"offset":0.6154,"color":"#1a1a1a"},{"offset":0.6538,"color":"#1a1a1a"},{"offset":0.6538,"color":"#ffffff"},{"offset":0.6923,"color":"#ffffff"},{"offset":0.6923,"color":"#1a1a1a"},{"offset":0.7308,"color":"#1a1a1a"},{"offset":0.7308,"color":"#ffffff"},{"offset":0.7692,"color":"#ffffff"},{"offset":0.7692,"color":"#1a1a1a"},{"offset":0.8077,"color":"#1a1a1a"},{"offset":0.8077,"color":"#ffffff"},{"offset":0.8462,"color":"#ffffff"},{"offset":0.8462,"color":"#1a1a1a"},{"offset":0.8846,"color":"#1a1a1a"},{"offset":0.8846,"color":"#ffffff"},{"offset":0.9231,"color":"#ffffff"},{"offset":0.9231,"color":"#1a1a1a"},{"offset":0.9615,"color":"#1a1a1a"},{"offset":0.9615,"color":"#ffffff"},{"offset":1,"color":"#ffffff"}]}},
     "encoding":{
      "x":{"field":"dose","type":"nominal","scale":{"domain":["0 Gy","2 Gy"],"paddingInner":0.37,"paddingOuter":0.13},"axis":{"title":null,"labelAngle":0,"labelFontSize":9,"labelColor":"#111","tickSize":4,"tickWidth":1.3,"tickColor":"#111","domainWidth":1.5,"domainColor":"#111","labelPadding":2}},
      "y":{"field":"sf","type":"quantitative","scale":{"domain":[0,1.5],"nice":false},"axis":{"title":"Survival \u00a0Fraction","titleFontSize":10,"titleFontWeight":"bold","titleColor":"#111","values":[0,0.5,1,1.5],"format":".1f","labelFontSize":9,"labelColor":"#111","tickSize":4,"tickWidth":1.3,"tickColor":"#111","domainWidth":1.5,"domainColor":"#111","labelPadding":2,"titlePadding":5}},
      "xOffset":{"field":"group","type":"nominal","scale":{"domain":["No GNP","GNP"],"paddingInner":0.35,"paddingOuter":0}}}},
    {"data":{"name":"f_bars"},"transform":[{"filter":"datum.group === 'GNP'"}],"mark":{"type":"bar","stroke":"#b22a2e","strokeWidth":1.5,"fill":{"gradient":"linear","x1":0,"y1":0,"x2":0.26,"y2":1.165,"stops":[{"offset":0,"color":"#b22a2e"},{"offset":0.0385,"color":"#b22a2e"},{"offset":0.0385,"color":"#ffffff"},{"offset":0.0769,"color":"#ffffff"},{"offset":0.0769,"color":"#b22a2e"},{"offset":0.1154,"color":"#b22a2e"},{"offset":0.1154,"color":"#ffffff"},{"offset":0.1538,"color":"#ffffff"},{"offset":0.1538,"color":"#b22a2e"},{"offset":0.1923,"color":"#b22a2e"},{"offset":0.1923,"color":"#ffffff"},{"offset":0.2308,"color":"#ffffff"},{"offset":0.2308,"color":"#b22a2e"},{"offset":0.2692,"color":"#b22a2e"},{"offset":0.2692,"color":"#ffffff"},{"offset":0.3077,"color":"#ffffff"},{"offset":0.3077,"color":"#b22a2e"},{"offset":0.3462,"color":"#b22a2e"},{"offset":0.3462,"color":"#ffffff"},{"offset":0.3846,"color":"#ffffff"},{"offset":0.3846,"color":"#b22a2e"},{"offset":0.4231,"color":"#b22a2e"},{"offset":0.4231,"color":"#ffffff"},{"offset":0.4615,"color":"#ffffff"},{"offset":0.4615,"color":"#b22a2e"},{"offset":0.5,"color":"#b22a2e"},{"offset":0.5,"color":"#ffffff"},{"offset":0.5385,"color":"#ffffff"},{"offset":0.5385,"color":"#b22a2e"},{"offset":0.5769,"color":"#b22a2e"},{"offset":0.5769,"color":"#ffffff"},{"offset":0.6154,"color":"#ffffff"},{"offset":0.6154,"color":"#b22a2e"},{"offset":0.6538,"color":"#b22a2e"},{"offset":0.6538,"color":"#ffffff"},{"offset":0.6923,"color":"#ffffff"},{"offset":0.6923,"color":"#b22a2e"},{"offset":0.7308,"color":"#b22a2e"},{"offset":0.7308,"color":"#ffffff"},{"offset":0.7692,"color":"#ffffff"},{"offset":0.7692,"color":"#b22a2e"},{"offset":0.8077,"color":"#b22a2e"},{"offset":0.8077,"color":"#ffffff"},{"offset":0.8462,"color":"#ffffff"},{"offset":0.8462,"color":"#b22a2e"},{"offset":0.8846,"color":"#b22a2e"},{"offset":0.8846,"color":"#ffffff"},{"offset":0.9231,"color":"#ffffff"},{"offset":0.9231,"color":"#b22a2e"},{"offset":0.9615,"color":"#b22a2e"},{"offset":0.9615,"color":"#ffffff"},{"offset":1,"color":"#ffffff"}]}},"encoding":{"x":{"field":"dose","type":"nominal","axis":null},"y":{"field":"sf","type":"quantitative","axis":null},"xOffset":{"field":"group","type":"nominal","scale":{"domain":["No GNP","GNP"],"paddingInner":0.35,"paddingOuter":0}}}},
    {"data":{"name":"f_bars"},"mark":{"type":"rule","strokeWidth":1.3},"encoding":{"x":{"field":"dose","type":"nominal","axis":null},"y":{"field":"sf","type":"quantitative","axis":null},"y2":{"field":"hi"},"xOffset":{"field":"group","type":"nominal","scale":{"domain":["No GNP","GNP"],"paddingInner":0.35,"paddingOuter":0}},"color":{"field":"group","type":"nominal","scale":{"domain":["No GNP","GNP"],"range":["#1a1a1a","#b22a2e"]},"legend":null}}},
    {"data":{"name":"f_bars"},"mark":{"type":"tick","size":8,"thickness":1.3},"encoding":{"x":{"field":"dose","type":"nominal","axis":null},"y":{"field":"hi","type":"quantitative","axis":null},"xOffset":{"field":"group","type":"nominal","scale":{"domain":["No GNP","GNP"],"paddingInner":0.35,"paddingOuter":0}},"color":{"field":"group","type":"nominal","scale":{"domain":["No GNP","GNP"],"range":["#1a1a1a","#b22a2e"]},"legend":null}}},
    {"data":{"name":"f_bars"},"mark":{"type":"point","filled":true,"opacity":0},"encoding":{"x":{"field":"dose","type":"nominal","axis":null},"y":{"field":"sf","type":"quantitative","axis":null},"xOffset":{"field":"group","type":"nominal","scale":{"domain":["No GNP","GNP"],"paddingInner":0.35,"paddingOuter":0}},
     "color":{"field":"group","type":"nominal","scale":{"domain":["No GNP","GNP"],"range":["#1a1a1a","#b22a2e"]},
      "legend":{"title":null,"orient":"none","legendX":104,"legendY":-7,"padding":0,"symbolType":"M-1,-0.4H1V0.4H-1Z M-0.5,0.2L-0.2,0.2L0.05,-0.2L-0.25,-0.2Z M0.15,0.2L0.45,0.2L0.7,-0.2L0.4,-0.2Z","symbolSize":169,"symbolOpacity":1,"symbolStrokeWidth":0,"labelFontSize":11.5,"labelFontWeight":"normal","labelColor":"#222","labelOffset":6,"rowPadding":4}}}}
   ]}
 ],"bounds":"flush","spacing":0,"resolve":{"scale":{"color":"independent"},"legend":{"color":"independent"}}},
 {"hconcat":[
  {"width":29,"height":10,"view":{"stroke":null},"data":{"values":[]},"mark":{"type":"point","opacity":0}},
  {"width":201,"height":207,"view":{"stroke":"#aaa"},
   "title":{"text":"G","anchor":"start","frame":"bounds","fontSize":12,"fontWeight":"bold","offset":1,"dx":3},
   "data":{"name":"g_fit"},
   "mark":{"type":"line","color":"#111","strokeWidth":1.2,"interpolate":"monotone"},
   "encoding":{
    "x":{"field":"rg","type":"quantitative","scale":{"domain":[0.86,7.6],"nice":false,"zero":false},"axis":{"title":"Relative Growth","values":[1,2,3,4,5,6,7],"titleFontSize":10.5,"tickSize":3,"domain":false,"labelPadding":1,"titlePadding":1}},
    "y":{"field":"sf","type":"quantitative","scale":{"domain":[0.076,0.9],"nice":false,"zero":false},"axis":{"title":"Survival Fraction","values":[0.1,0.2,0.3,0.4,0.5,0.6,0.7,0.8],"format":".1f","titleFontSize":10.5,"tickSize":3,"domain":false,"labelPadding":2,"titlePadding":4}},
    "strokeDash":{"field":"series","type":"nominal","scale":{"domain":["2 Gy - No Gold fit","2 Gy - Gold fit"],"range":[[1,0],[3,2]]},
     "legend":{"title":null,"orient":"top-right","offset":4,"padding":3,"strokeColor":"#ccc","fillColor":"#fff","cornerRadius":2,"symbolType":"M-3.5,0H3.5","symbolSize":16,"symbolStrokeWidth":1.3,"symbolStrokeColor":"#111","symbolOffset":5,"labelFontSize":7.5,"labelFontWeight":"bold","labelColor":"#333","labelOffset":8,"rowPadding":2}}}},
  {"width":28,"height":10,"view":{"stroke":null},"data":{"values":[]},"mark":{"type":"point","opacity":0}},
  {"width":204,"height":207,"view":{"stroke":"#aaa"},
   "title":{"text":"H","anchor":"start","frame":"bounds","fontSize":12,"fontWeight":"bold","offset":1,"dx":9},
   "data":{"name":"h_fit"},
   "mark":{"type":"line","color":"#111","strokeWidth":1.2,"interpolate":"monotone"},
   "encoding":{
    "x":{"field":"rg","type":"quantitative","scale":{"domain":[0.82,2.55],"nice":false,"zero":false},"axis":{"title":"Relative Growth","values":[1.0,1.2,1.4,1.6,1.8,2.0,2.2,2.4],"format":".1f","titleFontSize":10.5,"tickSize":3,"domain":false,"labelPadding":1,"titlePadding":1}},
    "y":{"field":"sf","type":"quantitative","scale":{"domain":[0.005,1.026],"nice":false,"zero":false},"axis":{"title":"Survival Fraction","values":[0.2,0.4,0.6,0.8,1.0],"format":".1f","titleFontSize":10.5,"tickSize":3,"domain":false,"labelPadding":2,"titlePadding":4}},
    "strokeDash":{"field":"series","type":"nominal","scale":{"domain":["2 Gy - No Gold fit","2 Gy - Gold fit"],"range":[[1,0],[3,2]]},
     "legend":{"title":null,"orient":"top-right","offset":4,"padding":3,"strokeColor":"#ccc","fillColor":"#fff","cornerRadius":2,"symbolType":"M-3.5,0H3.5","symbolSize":16,"symbolStrokeWidth":1.3,"symbolStrokeColor":"#111","symbolOffset":5,"labelFontSize":7.5,"labelFontWeight":"bold","labelColor":"#333","labelOffset":8,"rowPadding":2}}}},
  {"width":28,"height":10,"view":{"stroke":null},"data":{"values":[]},"mark":{"type":"point","opacity":0}},
  {"width":202,"height":207,"view":{"stroke":"#aaa"},
   "title":{"text":"I","anchor":"start","frame":"bounds","fontSize":12,"fontWeight":"bold","offset":1,"dx":6},
   "data":{"name":"i_fit"},
   "mark":{"type":"line","color":"#111","strokeWidth":1.2},
   "encoding":{
    "x":{"field":"rg","type":"quantitative","scale":{"domain":[0.869,1.911],"nice":false,"zero":false},"axis":{"title":"Relative Growth","values":[1.0,1.2,1.4,1.6,1.8],"format":".1f","titleFontSize":10.5,"tickSize":3,"domain":false,"labelPadding":1,"titlePadding":1}},
    "y":{"field":"sf","type":"quantitative","scale":{"domain":[0.15,1.24],"nice":false,"zero":false},"axis":{"title":"Survival Fraction","values":[0.2,0.4,0.6,0.8,1.0,1.2],"format":".1f","titleFontSize":10.5,"tickSize":3,"domain":false,"labelPadding":2,"titlePadding":4}},
    "strokeDash":{"field":"series","type":"nominal","scale":{"domain":["2 Gy - No Gold fit","2 Gy - Gold fit"],"range":[[1,0],[3,2]]},
     "legend":{"title":null,"orient":"top-right","offset":4,"padding":3,"strokeColor":"#ccc","fillColor":"#fff","cornerRadius":2,"symbolType":"M-3.5,0H3.5","symbolSize":16,"symbolStrokeWidth":1.3,"symbolStrokeColor":"#111","symbolOffset":5,"labelFontSize":7.5,"labelFontWeight":"bold","labelColor":"#333","labelOffset":8,"rowPadding":2}}}}
 ],"bounds":"flush","spacing":0,"resolve":{"scale":{"strokeDash":"independent"},"legend":{"strokeDash":"independent"}}}
]
}
